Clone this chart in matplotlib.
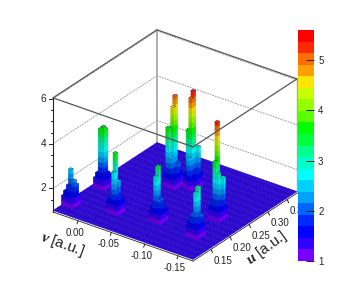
import numpy as np
import matplotlib
matplotlib.use('Agg')
import matplotlib.pyplot as plt
from matplotlib.colors import ListedColormap, BoundaryNorm, to_rgb
from matplotlib.cm import ScalarMappable
from matplotlib.lines import Line2D
from matplotlib.transforms import IdentityTransform
from mpl_toolkits.mplot3d import proj3d
from mpl_toolkits.mplot3d.art3d import Poly3DCollection

plt.rcParams['font.family'] = ['Liberation Sans', 'DejaVu Sans']
plt.rcParams['mathtext.fontset'] = 'custom'
plt.rcParams['mathtext.bfit'] = 'Liberation Serif:italic:bold'
plt.rcParams['mathtext.rm'] = 'Liberation Sans'

# ---- data -----------------------------------------------------------
u_range = (0.103, 0.376)
v_range = (-0.1725, 0.0375)
z_range = (0.95, 6.05)
n_bins = 50
floor_z = 1.02
band_edges = np.round(1 + 0.23 * np.arange(21), 2)
band_colors = ['#7800ff', '#3200ff', '#0000ff', '#0028ff', '#0064ff', '#00a0ff', '#00d2ff',
               '#00ffff', '#00ffc8', '#00ff8c', '#00ff3c', '#00ff00', '#5aff00', '#96ff00',
               '#c8ff00', '#ffe600', '#ffa000', '#ff6e00', '#ff2800', '#ff0000']
floor_color = '#2c00ee'

# clusters: bin of the centre, level of the outer block, corners and the inner block
cluster_i = [5, 19, 9, 12, 11, 23, 31, 34]
cluster_j = [47, 46, 34, 21, 7, 8, 30, 25]
cluster_base = [1.6, 1.6, 1.7, 1.7, 1.7, 1.8, 1.9, 1.9]
cluster_corner = [1.45, 1.45, 1.5, 1.5, 1.5, 1.55, 1.65, 1.65]
cluster_core = [1.9, 1.9, 2.0, 2.0, 2.0, 2.1, 2.3, 2.3]
# individual tall bins: cluster number, bin offset, height
pillar_cluster = [0, 0, 0,
                  1, 1, 1,
                  2, 2, 2,
                  3, 3, 3,
                  4, 4, 4,
                  5, 5, 5, 5,
                  6, 6, 6, 6, 6,
                  7, 7, 7, 7, 7]
pillar_di = [1, 1, 0,
             0, 0, 1,
             1, -1, 1,
             1, 0, 0,
             1, 0, 1,
             1, 0, 0, 1,
             1, 0, -1, -1, 1,
             0, -1, -1, 1, -2]
pillar_dj = [1, -1, -1,
             0, 1, 0,
             1, 0, 0,
             1, 1, 0,
             0, 0, -1,
             1, 1, 0, -1,
             0, 0, 1, 0, -1,
             0, 0, 1, -1, 0]
pillar_z = [2.55, 1.96, 2.2,
            3.75, 3.6, 3.6,
            3.6, 2.9, 2.4,
            3.4, 3.0, 1.95,
            3.2, 3.0, 2.0,
            5.28, 3.56, 3.1, 2.9,
            5.05, 4.6, 3.7, 2.4, 2.14,
            5.36, 5.1, 3.64, 2.85, 2.45]

z_ticks = [2, 4, 6]
z_minor = [1.5, 2.5, 3, 3.5, 4.5, 5, 5.5]
u_ticks = [0.15, 0.20, 0.25, 0.30, 0.35]
u_labels = ['0.15', '0.20', '0.25', '0.30', '0.35']
v_ticks = [0.00, -0.05, -0.10, -0.15]
v_labels = ['0.00', '-0.05', '-0.10', '-0.15']
cbar_ticks = [1, 2, 3, 4, 5]

# ---- figure and 3D view -----------------------------------------------
W, H = 349, 297
fig = plt.figure(figsize=(W / 100, H / 100), dpi=100)
ax = fig.add_axes([0, 0, 1, 1], projection='3d', computed_zorder=False)
ax.set_proj_type('ortho')
ax.view_init(elev=28.6, azim=216.2)
ax.set_xlim(*u_range, view_margin=0)
ax.set_ylim(*v_range, view_margin=0)
ax.set_zlim(*z_range, view_margin=0)
aspect = (176, 173.5, 130)
ax.set_box_aspect(aspect)
ax.set_axis_off()
ax.patch.set_alpha(0)


def px(x, y, z):
    ax.apply_aspect()
    X, Y, _ = proj3d.proj_transform(x, y, z, ax.get_proj())
    return ax.transData.transform((X, Y))


umin, umax = u_range
vmin, vmax = v_range
zmin, zmax = z_range

# fit the box to the frame: left corner (53,212), right corner (297,193)
fig.canvas.draw()
w0 = px(umax, vmin, zmin)[0] - px(umin, vmax, zmin)[0]
ax.set_box_aspect(aspect, zoom=244 / w0)
fig.canvas.draw()
p = px(umin, vmax, zmin)
ax.set_position([(53 - p[0]) / W, ((H - 212) - p[1]) / H, 1, 1])
fig.canvas.draw()

du = (umax - umin) / n_bins
dv = (vmax - vmin) / n_bins

# ---- build the histogram ----------------------------------------------
Z = np.full((n_bins, n_bins), floor_z)
for ci, cj, b, k, c in zip(cluster_i, cluster_j, cluster_base, cluster_corner, cluster_core):
    Z[ci - 1:ci + 3, cj - 1:cj + 3] = b
    for a0 in (ci - 1, ci + 2):
        for b0 in (cj - 1, cj + 2):
            Z[a0, b0] = k
    Z[ci:ci + 2, cj:cj + 2] = c
for k, di, dj, z in zip(pillar_cluster, pillar_di, pillar_dj, pillar_z):
    Z[cluster_i[k] + di, min(cluster_j[k] + dj, n_bins - 1)] = z


def shade(col, f):
    return tuple(np.clip(np.array(to_rgb(col)) * f, 0, 1))


def mix(col, other, t):
    return tuple(np.array(to_rgb(col)) * (1 - t) + np.array(to_rgb(other)) * t)


# floor
fverts = []
for i in range(n_bins):
    for j in range(n_bins):
        x0, y0 = umin + i * du, vmin + j * dv
        fverts.append([(x0, y0, floor_z), (x0 + du, y0, floor_z),
                       (x0 + du, y0 + dv, floor_z), (x0, y0 + dv, floor_z)])
floor = Poly3DCollection(fverts, facecolors=floor_color, edgecolors='#180090', linewidths=0.22, zorder=2)
ax.add_collection3d(floor)

# raised bins, cut into one piece per colour band
verts, cols, edges = [], [], []
navy = '#10107a'
for i in range(n_bins):
    for j in range(n_bins):
        top = Z[i, j]
        if top <= floor_z:
            continue
        x0, y0 = umin + i * du, vmin + j * dv
        x1, y1 = x0 + du, y0 + dv
        cuts = [floor_z] + [e for e in band_edges if floor_z < e < top] + [top]
        for lo, hi in zip(cuts[:-1], cuts[1:]):
            b = min(int((0.5 * (lo + hi) - 1) / 0.23), 19)
            col = band_colors[b]
            verts.append([(x0, y0, lo), (x0, y1, lo), (x0, y1, hi), (x0, y0, hi)])
            cols.append(shade(col, 0.82))
            edges.append(mix(shade(col, 0.82), navy, 0.08))
            verts.append([(x0, y0, lo), (x1, y0, lo), (x1, y0, hi), (x0, y0, hi)])
            cols.append(shade(col, 0.95))
            edges.append(mix(shade(col, 0.95), navy, 0.08))
        col = band_colors[min(int((top - 1e-6 - 1) / 0.23), 19)]
        verts.append([(x0, y0, top), (x1, y0, top), (x1, y1, top), (x0, y1, top)])
        cols.append(col)
        edges.append(navy)
bars = Poly3DCollection(verts, facecolors=cols, edgecolors=edges, linewidths=0.3, zorder=3)
ax.add_collection3d(bars)


def line3(a, b, zorder=1, **kw):
    ax.plot([a[0], b[0]], [a[1], b[1]], [a[2], b[2]], zorder=zorder, solid_capstyle='round', **kw)


# back walls: dashed grid and grey frame
for z in z_ticks:
    kw = dict(color='#8c8c8c', lw=0.6, ls=(0, (2, 1.2)))
    line3((umin, vmax, z), (umax, vmax, z), **kw)
    line3((umax, vmax, z), (umax, vmin, z), **kw)
line3((umax, vmax, zmin), (umax, vmax, zmax), color='#a8a8a8', lw=1.3)
line3((umax, vmin, zmin), (umax, vmin, zmax), color='#a8a8a8', lw=1.0)

# top of the box and axes edges
top_kw = dict(color='#555555', lw=0.9)
line3((umin, vmax, zmax), (umax, vmax, zmax), **top_kw)
line3((umax, vmax, zmax), (umax, vmin, zmax), **top_kw)
line3((umin, vmax, zmax), (umin, vmin, zmax), zorder=5, **top_kw)
line3((umin, vmin, zmax), (umax, vmin, zmax), zorder=5, **top_kw)
line3((umin, vmax, zmin), (umin, vmax, zmax), color='#222222', lw=0.8, zorder=5)
line3((umin, vmin, zmin), (umin, vmax, zmin), color='#222222', lw=0.6, zorder=5)
line3((umin, vmin, zmin), (umax, vmin, zmin), color='#222222', lw=0.6, zorder=5)


def pixline(p0, p1, lw=0.7, color='#222222'):
    fig.add_artist(Line2D([p0[0], p1[0]], [p0[1], p1[1]], transform=IdentityTransform(),
                          color=color, lw=lw, zorder=6))


def pixtext(p, s, **kw):
    kw.setdefault('ha', 'center')
    kw.setdefault('va', 'center')
    kw.setdefault('fontsize', 7.0)
    kw.setdefault('color', '#222222')
    fig.text(p[0] / W, p[1] / H, s, **kw)


# z axis
for z in z_ticks + z_minor:
    p = px(umin, vmax, z)
    major = z in z_ticks
    pixline(p, p - np.array([4 if major else 2.5, 0]))
    if major:
        pixtext(p - np.array([7, 0]), str(z), ha='right', fontsize=7.4)

# u axis
for t, lab in zip(u_ticks, u_labels):
    p = px(t, vmin, zmin)
    pixline(p, p + np.array([1.5, -3]))
    pixtext(p + np.array([12, -11.5]), lab, zorder=-1)

# v axis
for t, lab in zip(v_ticks, v_labels):
    p = px(umin, t, zmin)
    pixline(p, p + np.array([-1, -3]))
    pixtext(p + np.array([-3, -12]), lab, zorder=-1)

fig.text(62 / W, 1 - 244 / H, r'$\mathbfit{v}$ [a.u.]', fontsize=10.8, rotation=-20,
         ha='center', va='center', color='#222222', rotation_mode='anchor')
fig.text(267 / W, 1 - 248 / H, r'$\mathbfit{u}$ [a.u.]', fontsize=10.8, rotation=36,
         ha='center', va='center', color='#222222', rotation_mode='anchor')

# colour scale
cax = fig.add_axes([298 / W, 1 - 261 / H, 16 / W, 231 / H], zorder=8)
sm = ScalarMappable(norm=BoundaryNorm(band_edges, 20), cmap=ListedColormap(band_colors))
cb = fig.colorbar(sm, cax=cax, ticks=cbar_ticks, spacing='proportional')
cb.outline.set_visible(False)
cb.ax.minorticks_off()
cb.ax.tick_params(direction='in', length=5.5, width=0.7, labelsize=7, pad=3, colors='#222222', right=True)
cb.ax.set_yticklabels([str(t) for t in cbar_ticks])

fig.savefig('out.png', dpi=100)
